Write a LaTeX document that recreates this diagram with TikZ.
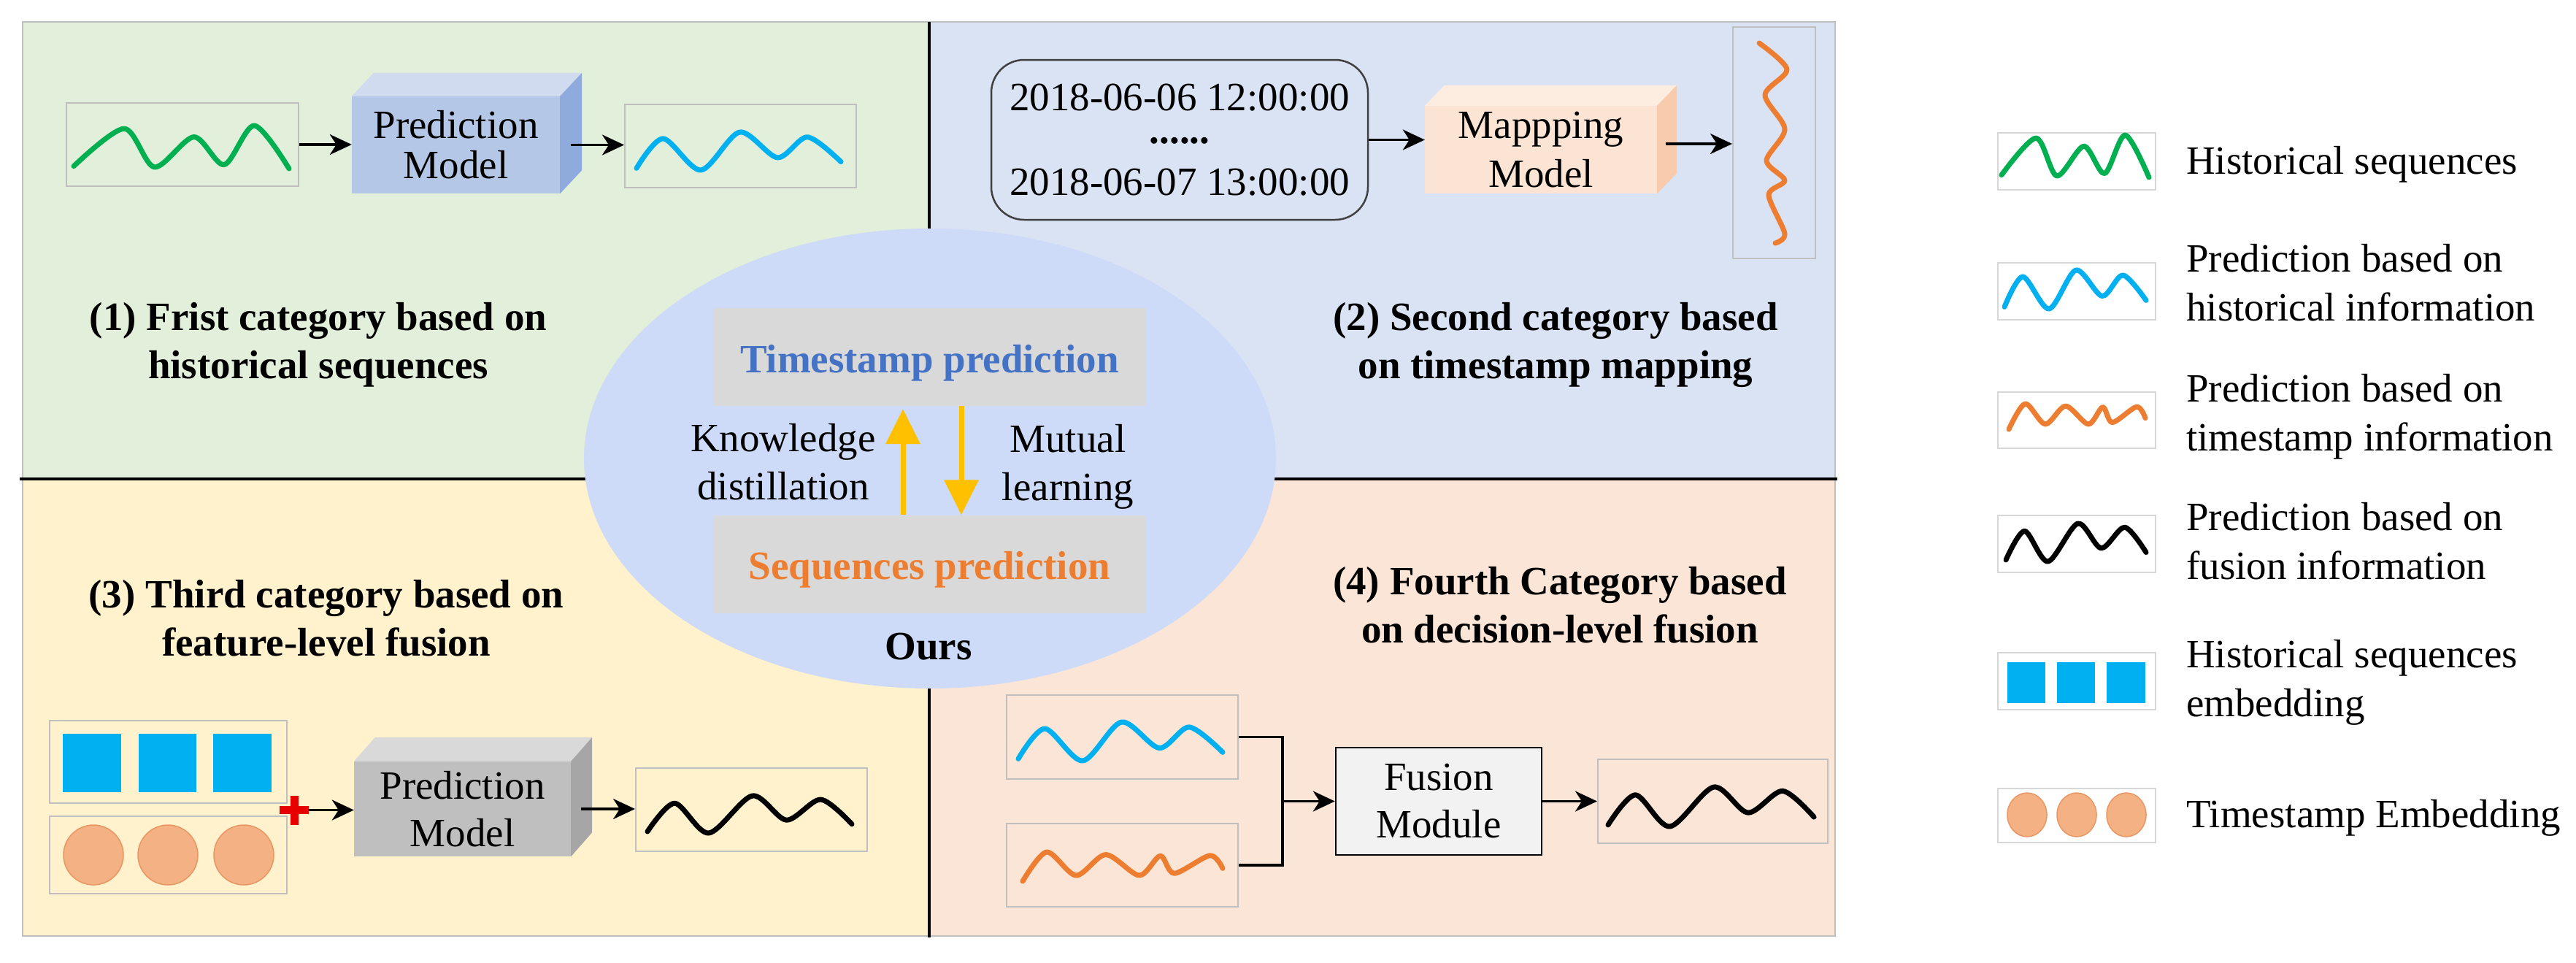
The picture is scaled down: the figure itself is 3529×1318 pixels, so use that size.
\documentclass[tikz,border=0pt]{standalone}
\usepackage{fontspec}
\setmainfont{Liberation Serif}
\usetikzlibrary{arrows.meta,shapes.geometric}
\definecolor{pgreen}{RGB}{226,239,218}
\definecolor{pblue}{RGB}{218,227,243}
\definecolor{pyellow}{RGB}{255,242,204}
\definecolor{ppeach}{RGB}{251,229,214}
\definecolor{oursc}{RGB}{205,219,249}
\definecolor{wgreen}{RGB}{0,176,80}
\definecolor{wblue}{RGB}{0,176,240}
\definecolor{worange}{RGB}{237,125,49}
\definecolor{tpblue}{RGB}{68,114,196}
\definecolor{goldc}{RGB}{255,192,0}
\definecolor{boxgrey}{RGB}{217,217,217}
\definecolor{edgegrey}{RGB}{191,191,191}
\definecolor{legedge}{RGB}{215,215,215}
\definecolor{cbfront}{RGB}{180,199,231}
\definecolor{cbtop}{RGB}{208,219,240}
\definecolor{cbside}{RGB}{143,170,220}
\definecolor{cpfront}{RGB}{252,228,212}
\definecolor{cptop}{RGB}{253,237,225}
\definecolor{cpside}{RGB}{248,203,173}
\definecolor{cgfront}{RGB}{191,191,191}
\definecolor{cgtop}{RGB}{217,217,217}
\definecolor{cgside}{RGB}{166,166,166}
\definecolor{circfill}{RGB}{244,177,131}
\definecolor{circedge}{RGB}{232,150,100}
\definecolor{fmfill}{RGB}{242,242,242}
\definecolor{dategrey}{RGB}{64,64,64}
\definecolor{plusred}{RGB}{230,0,0}
\tikzset{
  txt/.style={font=\fontsize{55}{66}\selectfont, inner sep=0pt},
  title/.style={font=\fontsize{55}{66}\selectfont\bfseries, align=center, inner sep=0pt},
  legtxt/.style={font=\fontsize{55}{67}\selectfont, align=left, anchor=west, inner sep=0pt},
  wbox/.style={draw=edgegrey, line width=2pt, inner sep=0pt},
  lbox/.style={draw=legedge, fill=white, line width=2pt, inner sep=0pt, minimum width=216pt},
  wave/.style={line width=7pt, line cap=round, line join=round},
  arr/.style={line width=3.5pt, -{Stealth[length=30pt,width=28pt,inset=9pt]}},
  conn/.style={line width=3.5pt},
  goldarr/.style={draw=goldc, line width=7pt, -{Triangle[length=48pt,width=46pt]}},
  cube/.style={inner sep=0pt, align=center},
  gbox/.style={fill=boxgrey, minimum width=593pt, minimum height=134pt, inner sep=0pt,
     font=\fontsize{55}{66}\selectfont\bfseries, text height=42pt, text depth=0pt},
  plus/.style={minimum size=40pt, inner sep=0pt,
     path picture={\draw[plusred, line width=11pt] (path picture bounding box.west) -- (path picture bounding box.east)
       (path picture bounding box.north) -- (path picture bounding box.south);}},
}
\newcommand{\wvgreen}[4]{\draw[wave,wgreen,shift={(#1,#2)},x=#3pt,y=-#4pt] plot[smooth] coordinates {(0,0.943) (0.234,0.071) (0.375,0.964) (0.558,0.264) (0.699,0.907) (0.839,0) (1,1)};}
\newcommand{\wvblue}[4]{\draw[wave,wblue,shift={(#1,#2)},x=#3pt,y=-#4pt] plot[smooth] coordinates {(0,0.95) (0.13,0.17) (0.315,1) (0.505,0) (0.69,0.67) (0.837,0.13) (1,0.78)};}
\newcommand{\wvorange}[4]{\draw[wave,worange,shift={(#1,#2)},x=#3pt,y=-#4pt] plot[smooth] coordinates {(0,1) (0.12,0) (0.267,0.8) (0.416,0.09) (0.583,0.8) (0.688,0.13) (0.758,0.73) (0.936,0.12) (1,0.56)};}
\newcommand{\wvblack}[4]{\draw[wave,black,shift={(#1,#2)},x=#3pt,y=-#4pt] plot[smooth] coordinates {(0,0.96) (0.133,0.2) (0.3,1) (0.513,0) (0.68,0.65) (0.848,0.1) (1,0.76)};}
\newcommand{\cubefaces}[5]{%
  \fill[#2] (#1.north west) -- ([shift={(#4,#5)}]#1.north west) -- ([shift={(#4,#5)}]#1.north east) -- (#1.north east) -- cycle;
  \fill[#3] (#1.north east) -- ([shift={(#4,#5)}]#1.north east) -- ([shift={(#4,#5)}]#1.south east) -- (#1.south east) -- cycle;}
\begin{document}
\begin{tikzpicture}[x=1pt,y=-1pt]
\useasboundingbox (0,0) rectangle (3529,1318);
\fill[white] (0,0) rectangle (3529,1318);
% panels
\fill[pgreen] (31,30) rectangle (1273,656);
\fill[pblue] (1273,30) rectangle (2514,656);
\fill[pyellow] (31,656) rectangle (1273,1282);
\fill[ppeach] (1273,656) rectangle (2514,1282);
\draw[edgegrey, line width=1.5pt] (31,30) rectangle (2514,1282);
\draw[line width=4pt] (1273,30) -- (1273,1284);
\draw[line width=4pt] (27,656) -- (2517,656);
% central ellipse
\node[ellipse, fill=oursc, minimum width=948pt, minimum height=630pt, inner sep=0pt] (ours) at (1274,628) {};
\node[gbox, text=tpblue] (tp) at (1273.5,489) {Timestamp prediction};
\node[gbox, text=worange] (sp) at (1273.5,772.5) {Sequences prediction};
\draw[goldarr, shorten >=4pt] ([xshift=-36.5pt]sp.north) -- ([xshift=-36.5pt]tp.south);
\draw[goldarr] ([xshift=43.5pt]tp.south) -- ([xshift=43.5pt]sp.north);
\node[txt, align=center] (kd) at (1073,633) {Knowledge\\distillation};
\node[txt, align=center] (ml) at (1463,639) {Mutual\\learning};
\node[txt, font=\fontsize{55}{66}\selectfont\bfseries] (ourslbl) at (1272,886) {Ours};
% panel 1
\node[wbox, minimum width=318pt, minimum height=114pt] (g1) at (250,198) {};
\wvgreen{101}{172}{295}{59}
\node[cube, fill=cbfront, minimum width=285pt, minimum height=133pt, font=\fontsize{55}{55}\selectfont] (pm1) at (624.5,198.5) {Prediction\\Model};
\cubefaces{pm1}{cbtop}{cbside}{30}{-32}
\node[wbox, minimum width=317pt, minimum height=114pt] (b1) at (1014.5,200) {};
\wvblue{872}{181}{280}{52}
\draw[arr] (g1.east) -- (g1.east -| pm1.west);
\coordinate (pm1out) at ([xshift=15pt]pm1.east);
\draw[arr] (pm1out) -- (pm1out -| b1.west);
\node[title] (t1) at (436,472) {(1) Frist category based on\\historical sequences};
% panel 2
\node[draw=dategrey, line width=2.5pt, rounded corners=45pt, minimum width=516pt, minimum height=219pt, inner sep=0pt, align=center, font=\fontsize{55}{58}\selectfont] (ts) at (1616,191.5) {2018-06-06 12:00:00\\\raisebox{13pt}{\textbf{......}}\\2018-06-07 13:00:00};
\node[cube, fill=cpfront, minimum width=318pt, minimum height=120pt, font=\fontsize{55}{67}\selectfont] (mm) at (2111,205) {Mappping\\Model};
\cubefaces{mm}{cptop}{cpside}{27}{-28}
\node[wbox, minimum width=113pt, minimum height=317pt] (vo) at (2430.5,195.5) {};
\draw[wave, worange] plot[smooth] coordinates {(2410,59) (2448,95) (2418,130) (2445,177) (2420,220) (2445,247) (2423,267) (2445,320) (2432,333)};
\draw[arr] (ts.east) -- (ts.east -| mm.west);
\coordinate (mmout) at ([xshift=12pt,yshift=8pt]mm.east);
\draw[arr] (mmout) -- (mmout -| vo.west);
\node[title] (t2) at (2131,472) {(2) Second category based\\on timestamp mapping};
% panel 3
\node[title] (t3) at (447,846.5) {(3) Third category based on\\feature-level fusion};
\node[wbox, minimum width=325pt, minimum height=113pt] (sqb) at (230.5,1043.5) {};
\fill[wblue] (86,1005) rectangle (166,1085);
\fill[wblue] (190,1005) rectangle (269,1085);
\fill[wblue] (292,1005) rectangle (372,1085);
\node[wbox, minimum width=325pt, minimum height=106pt] (cib) at (230.5,1171) {};
\filldraw[fill=circfill, draw=circedge, line width=1.5pt] (128,1171) ellipse [x radius=41, y radius=41];
\filldraw[fill=circfill, draw=circedge, line width=1.5pt] (230,1171) ellipse [x radius=41, y radius=41];
\filldraw[fill=circfill, draw=circedge, line width=1.5pt] (334,1171) ellipse [x radius=41, y radius=41];
\node[plus] (plus) at (403,1109.5) {};
\node[cube, fill=cgfront, minimum width=297pt, minimum height=130pt, font=\fontsize{55}{65}\selectfont] (pm3) at (633.5,1108) {Prediction\\Model};
\cubefaces{pm3}{cgtop}{cgside}{29}{-33}
\node[wbox, minimum width=317pt, minimum height=114pt] (k3) at (1029.5,1109) {};
\wvblack{887}{1090}{280}{51}
\draw[arr] (plus.east) -- (plus.east -| pm3.west);
\coordinate (pm3out) at ([xshift=14pt]pm3.east);
\draw[arr] (pm3out) -- (pm3out -| k3.west);
% panel 4
\node[title] (t4) at (2137,828.5) {(4) Fourth Category based\\on decision-level fusion};
\node[wbox, minimum width=317pt, minimum height=115pt] (b4) at (1537.5,1009.5) {};
\wvblue{1395}{989}{280}{53}
\node[wbox, minimum width=317pt, minimum height=114pt] (o4) at (1537.5,1185) {};
\wvorange{1401}{1167}{274}{40}
\node[draw, line width=2.5pt, fill=fmfill, minimum width=282pt, minimum height=147pt, inner sep=0pt, align=center, font=\fontsize{55}{65}\selectfont] (fm) at (1971,1097.5) {Fusion\\Module};
\node[wbox, minimum width=315pt, minimum height=115pt] (k4) at (2346.5,1097.5) {};
\wvblack{2203}{1078}{282}{54}
\coordinate (jt) at ([xshift=60pt]b4.east);
\coordinate (jb) at ([xshift=60pt]o4.east);
\draw[conn] (b4.east) -- (jt) -- (jb) -- (o4.east);
\draw[arr] (jt |- fm.west) -- (fm.west);
\draw[arr] (fm.east) -- (fm.east -| k4.west);
% legend
\node[lbox, minimum height=78pt] (l1) at (2845,221) {};
\wvgreen{2742}{185}{202}{58}
\node[legtxt] (lt1) at (2995,225) {Historical sequences};
\node[lbox, minimum height=78pt] (l2) at (2845,399) {};
\wvblue{2746}{370}{194}{53}
\node[legtxt] (lt2) at (2995,387.5) {Prediction based on\\historical information};
\node[lbox, minimum height=77pt] (l3) at (2845,575.5) {};
\wvorange{2752}{553}{187}{35}
\node[legtxt] (lt3) at (2995,571) {Prediction based on\\timestamp information};
\node[lbox, minimum height=78pt] (l4) at (2845,745) {};
\wvblack{2748}{717}{192}{52}
\node[legtxt] (lt4) at (2995,741) {Prediction based on\\fusion information};
\node[lbox, minimum height=78pt] (l5) at (2845,933) {};
\fill[wblue] (2750,907) rectangle (2802,963);
\fill[wblue] (2818,907) rectangle (2870,963);
\fill[wblue] (2886,907) rectangle (2939,963);
\node[legtxt] (lt5) at (2995,935) {Historical sequences\\embedding};
\node[lbox, minimum height=74pt] (l6) at (2845,1117) {};
\filldraw[fill=circfill, draw=circedge, line width=1.5pt] (2777,1116) ellipse [x radius=27, y radius=30];
\filldraw[fill=circfill, draw=circedge, line width=1.5pt] (2845,1116) ellipse [x radius=27, y radius=30];
\filldraw[fill=circfill, draw=circedge, line width=1.5pt] (2913,1116) ellipse [x radius=27, y radius=30];
\node[legtxt] (lt6) at (2995,1120) {Timestamp Embedding};
\end{tikzpicture}
\end{document}
